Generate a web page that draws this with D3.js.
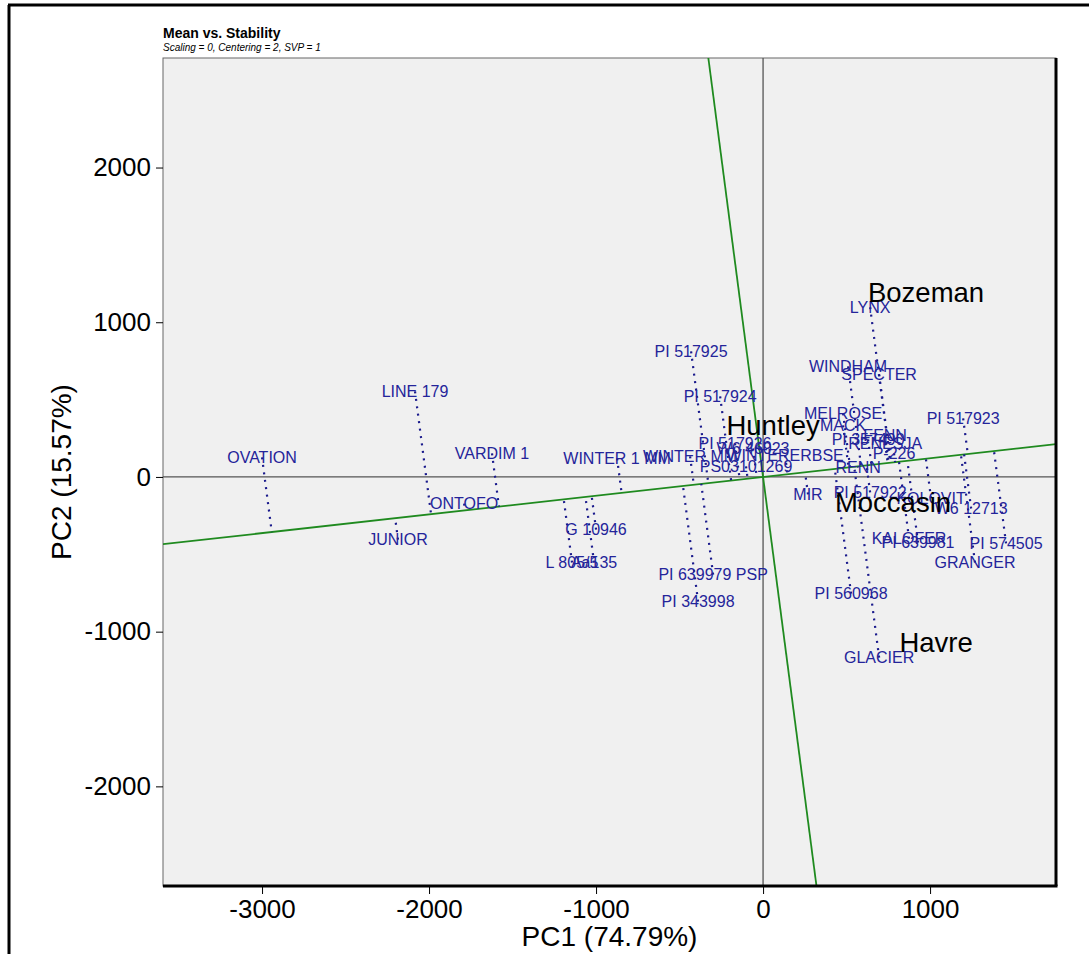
<!DOCTYPE html>
<html>
<head>
<meta charset="utf-8">
<script src="https://cdn.jsdelivr.net/npm/d3@7"></script>
<style>
  body { margin: 0; background: #fff; }
  svg { display: block; font-family: "Liberation Sans", Arial, sans-serif; }
</style>
</head>
<body>
<svg></svg>
<script>
// genotype scores (PC1, PC2)
const genotypes = [
  "OVATION", "LINE 179", "VARDIM 1", "ONTOFO", "JUNIOR", "WINTER 1 MM",
  "G 10946", "L 805/5", "Aa135", "PI 639979 PSP", "PI 343998", "PI 517925",
  "PI 517924", "PI 517926", "W6 46023", "PS03101269", "WINTER MM", "WINTERERBSE",
  "LYNX", "WINDHAM", "SPECTER", "MELROSE", "MACK", "FENN", "PI 357490",
  "RENESJA", "P-226", "RENN", "MIR", "PI 517922", "KOLOVIT", "W6 12713",
  "KALOFER", "PI 639981", "PI 574505", "GRANGER", "PI 517923", "PI 560968",
  "GLACIER"
];
const genoPC1 = [
  -3000, -2084, -1623, -1790, -2186, -874,
  -1000, -1144, -1012, -299, -389, -431,
  -257, -168, -60, -102, -437, 132,
  641, 509, 695, 479, 479, 731, 629,
  731, 784, 569, 269, 641, 1006, 1246,
  874, 928, 1455, 1269, 1198, 527,
  695
];
const genoPC2 = [
  126, 553, 152, -172, -405, 120,
  -340, -553, -553, -631, -806, 812,
  521, 217, 184, 68, 133, 139,
  1097, 715, 663, 411, 333, 269, 243,
  217, 152, 61, -113, -100, -139, -204,
  -398, -424, -430, -553, 379, -754,
  -1168
];

// environment scores
const environments = ["Bozeman", "Huntley", "Moccasin", "Havre"];
const envPC1 = [976, 60, 778, 1036];
const envPC2 = [1194, 333, -165, -1071];

// average environment axis slope (PC2 / PC1)
const aeaSlope = 0.121;

const xTicks = [-3000, -2000, -1000, 0, 1000];
const yTicks = [-2000, -1000, 0, 1000, 2000];
const xDomain = [-3593, 1754];
const yDomain = [-2644, 2708];

const width = 1089, height = 954;
const panel = { left: 163, right: 1056, top: 58, bottom: 886 };

const svg = d3.select("svg").attr("width", width).attr("height", height);

const x = d3.scaleLinear().domain(xDomain).range([panel.left, panel.right]);
const y = d3.scaleLinear().domain(yDomain).range([panel.bottom, panel.top]);

// page frame
svg.append("line").attr("x1", 9).attr("x2", 9).attr("y1", 5).attr("y2", height)
  .attr("stroke", "#000").attr("stroke-width", 3);
svg.append("line").attr("x1", 8).attr("x2", width).attr("y1", 5).attr("y2", 5)
  .attr("stroke", "#000").attr("stroke-width", 3);

// titles
svg.append("text").attr("x", panel.left).attr("y", 38)
  .attr("font-size", 14).attr("font-weight", "bold").text("Mean vs. Stability");
svg.append("text").attr("x", panel.left).attr("y", 51)
  .attr("font-size", 10).attr("font-style", "italic")
  .text("Scaling = 0, Centering = 2, SVP = 1");

// panel
svg.append("rect")
  .attr("x", panel.left).attr("y", panel.top)
  .attr("width", panel.right - panel.left).attr("height", panel.bottom - panel.top)
  .attr("fill", "#f0f0f0").attr("stroke", "#666").attr("stroke-width", 1);

svg.append("defs").append("clipPath").attr("id", "clip")
  .append("rect")
  .attr("x", panel.left).attr("y", panel.top)
  .attr("width", panel.right - panel.left).attr("height", panel.bottom - panel.top);

const plot = svg.append("g").attr("clip-path", "url(#clip)");

// zero axes
plot.append("line").attr("x1", panel.left).attr("x2", panel.right)
  .attr("y1", y(0)).attr("y2", y(0)).attr("stroke", "#555").attr("stroke-width", 1.3);
plot.append("line").attr("y1", panel.top).attr("y2", panel.bottom)
  .attr("x1", x(0)).attr("x2", x(0)).attr("stroke", "#555").attr("stroke-width", 1.3);

// average environment axis and its perpendicular
plot.append("line")
  .attr("x1", x(xDomain[0])).attr("y1", y(xDomain[0] * aeaSlope))
  .attr("x2", x(xDomain[1])).attr("y2", y(xDomain[1] * aeaSlope))
  .attr("stroke", "#1f8a1f").attr("stroke-width", 1.8);
plot.append("line")
  .attr("x1", x(-yDomain[1] * aeaSlope)).attr("y1", y(yDomain[1]))
  .attr("x2", x(-yDomain[0] * aeaSlope)).attr("y2", y(yDomain[0]))
  .attr("stroke", "#1f8a1f").attr("stroke-width", 1.8);

const geno = genotypes.map((name, i) => ({ name, pc1: genoPC1[i], pc2: genoPC2[i] }));

function project(d) {
  const t = (d.pc1 + d.pc2 * aeaSlope) / (1 + aeaSlope * aeaSlope);
  return [t, t * aeaSlope];
}

// projections onto the axis
plot.selectAll(".proj")
  .data(geno)
  .join("line")
  .attr("class", "proj")
  .attr("x1", (d) => x(d.pc1)).attr("y1", (d) => y(d.pc2))
  .attr("x2", (d) => x(project(d)[0])).attr("y2", (d) => y(project(d)[1]))
  .attr("stroke", "#1a1a8c").attr("stroke-width", 2.2)
  .attr("stroke-dasharray", "2 5.5");

plot.selectAll(".geno")
  .data(geno)
  .join("text")
  .attr("class", "geno")
  .attr("x", (d) => x(d.pc1)).attr("y", (d) => y(d.pc2))
  .attr("text-anchor", "middle").attr("dominant-baseline", "central")
  .attr("font-size", 16).attr("fill", "#24249a")
  .text((d) => d.name);

plot.selectAll(".env")
  .data(environments)
  .join("text")
  .attr("class", "env")
  .attr("x", (d, i) => x(envPC1[i])).attr("y", (d, i) => y(envPC2[i]))
  .attr("text-anchor", "middle").attr("dominant-baseline", "central")
  .attr("font-size", 27.5).attr("fill", "#000")
  .text((d) => d);

// heavy bottom and right edges
svg.append("line").attr("x1", panel.left).attr("x2", panel.right + 1.5)
  .attr("y1", panel.bottom).attr("y2", panel.bottom)
  .attr("stroke", "#000").attr("stroke-width", 3);
svg.append("line").attr("x1", panel.right).attr("x2", panel.right)
  .attr("y1", panel.top).attr("y2", panel.bottom)
  .attr("stroke", "#000").attr("stroke-width", 3);

// axes
const tickFmt = (d) => String(d);

const xAxis = svg.append("g")
  .attr("transform", `translate(0,${panel.bottom + 1})`)
  .call(d3.axisBottom(x).tickValues(xTicks).tickSize(7).tickPadding(6).tickFormat(tickFmt));
xAxis.select(".domain").remove();
xAxis.selectAll("text").attr("font-size", 26).attr("fill", "#000")
  .attr("font-family", "Liberation Sans, Arial, sans-serif");

const yAxis = svg.append("g")
  .attr("transform", `translate(${panel.left},0)`)
  .call(d3.axisLeft(y).tickValues(yTicks).tickSize(7).tickPadding(5).tickFormat(tickFmt));
yAxis.select(".domain").remove();
yAxis.selectAll("text").attr("font-size", 26).attr("fill", "#000")
  .attr("font-family", "Liberation Sans, Arial, sans-serif");

svg.append("text")
  .attr("x", (panel.left + panel.right) / 2).attr("y", 946)
  .attr("text-anchor", "middle").attr("font-size", 28)
  .text("PC1 (74.79%)");

svg.append("text")
  .attr("transform", `translate(71,${(panel.top + panel.bottom) / 2}) rotate(-90)`)
  .attr("text-anchor", "middle").attr("font-size", 28)
  .text("PC2 (15.57%)");
</script>
</body>
</html>
